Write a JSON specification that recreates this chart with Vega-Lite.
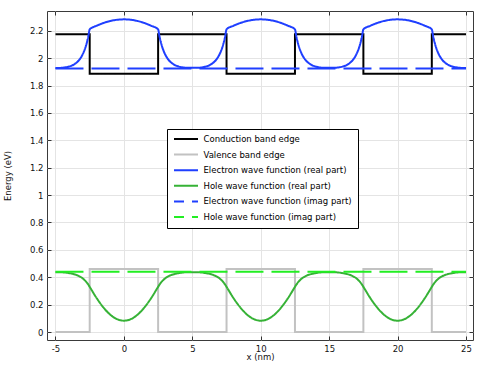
{
  "$schema": "https://vega.github.io/schema/vega-lite/v6.json",
  "autosize": "none",
  "width": 426,
  "height": 329,
  "padding": {"left": 47, "top": 11, "right": 6, "bottom": 26},
  "background": "white",
  "config": {
    "font": "DejaVu Sans",
    "view": {"stroke": "#3a3a3a", "strokeWidth": 1},
    "axis": {
      "labelFont": "DejaVu Sans", "labelFontSize": 8.5, "labelColor": "#111",
      "titleFont": "DejaVu Sans", "titleFontSize": 8.5, "titleFontWeight": "normal", "titleColor": "#111",
      "gridColor": "#e4e4e4", "gridWidth": 1, "domain": false,
      "tickColor": "#333", "tickSize": -4, "labelPadding": 8
    }
  },
  "encoding": {
    "x": {"field": "x", "type": "quantitative",
      "scale": {"domain": [-5.62, 25.51], "nice": false, "zero": false},
      "axis": {"values": [-5, 0, 5, 10, 15, 20, 25], "labelExpr": "replace(datum.label, '−', '-')", "title": "x (nm)", "titlePadding": 0, "grid": true}},
    "y": {"field": "y", "type": "quantitative",
      "scale": {"domain": [-0.058, 2.344], "nice": false, "zero": false},
      "axis": {"values": [0, 0.2, 0.4, 0.6, 0.8, 1, 1.2, 1.4, 1.6, 1.8, 2, 2.2], "format": "~g", "title": "Energy (eV)", "titlePadding": 17, "grid": true}},
    "color": {"field": "series", "type": "nominal",
      "scale": {"domain": ["Conduction band edge", "Valence band edge", "Electron wave function (real part)", "Hole wave function (real part)", "Electron wave function (imag part)", "Hole wave function (imag part)"],
        "range": ["#000000", "#c2c2c2", "#1f3fff", "#36b236", "#1f3fff", "#22ee22"]},
      "legend": {"orient": "none", "legendX": 120, "legendY": 118, "title": null, "fillColor": "white", "strokeColor": "#000", "padding": 6,
        "symbolType": "stroke", "symbolSize": 576, "symbolStrokeWidth": 2, "symbolDashOffset": 18, "clipHeight": 8, "rowPadding": 6.6,
        "labelFont": "DejaVu Sans", "labelFontSize": 8.5, "labelOffset": 4.5, "labelColor": "#000", "labelLimit": 300}},
    "strokeDash": {"field": "series", "type": "nominal",
      "scale": {"domain": ["Conduction band edge", "Valence band edge", "Electron wave function (real part)", "Hole wave function (real part)", "Electron wave function (imag part)", "Hole wave function (imag part)"],
        "range": [[1, 0], [1, 0], [1, 0], [1, 0], [28, 8], [28, 8]]},
      "legend": {"orient": "none", "legendX": 120, "legendY": 118, "title": null, "fillColor": "white", "strokeColor": "#000", "padding": 6,
        "symbolType": "stroke", "symbolSize": 576, "symbolStrokeWidth": 2, "symbolDashOffset": 18, "clipHeight": 8, "rowPadding": 6.6,
        "labelFont": "DejaVu Sans", "labelFontSize": 8.5, "labelOffset": 4.5, "labelColor": "#000", "labelLimit": 300}}
  },
  "layer": [
    {
      "data": {"values": [
        {"series": "Conduction band edge", "i": 0, "x": -5, "y": 2.175},
        {"series": "Conduction band edge", "i": 1, "x": -2.5, "y": 2.175},
        {"series": "Conduction band edge", "i": 2, "x": -2.5, "y": 1.885},
        {"series": "Conduction band edge", "i": 3, "x": 2.5, "y": 1.885},
        {"series": "Conduction band edge", "i": 4, "x": 2.5, "y": 2.175},
        {"series": "Conduction band edge", "i": 5, "x": 7.5, "y": 2.175},
        {"series": "Conduction band edge", "i": 6, "x": 7.5, "y": 1.885},
        {"series": "Conduction band edge", "i": 7, "x": 12.5, "y": 1.885},
        {"series": "Conduction band edge", "i": 8, "x": 12.5, "y": 2.175},
        {"series": "Conduction band edge", "i": 9, "x": 17.5, "y": 2.175},
        {"series": "Conduction band edge", "i": 10, "x": 17.5, "y": 1.885},
        {"series": "Conduction band edge", "i": 11, "x": 22.5, "y": 1.885},
        {"series": "Conduction band edge", "i": 12, "x": 22.5, "y": 2.175},
        {"series": "Conduction band edge", "i": 13, "x": 25, "y": 2.175},
        {"series": "Valence band edge", "i": 0, "x": -5, "y": 0},
        {"series": "Valence band edge", "i": 1, "x": -2.5, "y": 0},
        {"series": "Valence band edge", "i": 2, "x": -2.5, "y": 0.46},
        {"series": "Valence band edge", "i": 3, "x": 2.5, "y": 0.46},
        {"series": "Valence band edge", "i": 4, "x": 2.5, "y": 0},
        {"series": "Valence band edge", "i": 5, "x": 7.5, "y": 0},
        {"series": "Valence band edge", "i": 6, "x": 7.5, "y": 0.46},
        {"series": "Valence band edge", "i": 7, "x": 12.5, "y": 0.46},
        {"series": "Valence band edge", "i": 8, "x": 12.5, "y": 0},
        {"series": "Valence band edge", "i": 9, "x": 17.5, "y": 0},
        {"series": "Valence band edge", "i": 10, "x": 17.5, "y": 0.46},
        {"series": "Valence band edge", "i": 11, "x": 22.5, "y": 0.46},
        {"series": "Valence band edge", "i": 12, "x": 22.5, "y": 0},
        {"series": "Valence band edge", "i": 13, "x": 25, "y": 0}
      ]},
      "mark": {"type": "line", "strokeWidth": 2},
      "encoding": {"order": {"field": "i", "type": "quantitative"}}
    },
    {
      "data": {"values": [
        {"series": "Electron wave function (real part)", "x": -5, "y": 1.927},
        {"series": "Electron wave function (real part)", "x": -4.5, "y": 1.930},
        {"series": "Electron wave function (real part)", "x": -4, "y": 1.939},
        {"series": "Electron wave function (real part)", "x": -3.75, "y": 1.948},
        {"series": "Electron wave function (real part)", "x": -3.5, "y": 1.964},
        {"series": "Electron wave function (real part)", "x": -3.25, "y": 1.989},
        {"series": "Electron wave function (real part)", "x": -3, "y": 2.030},
        {"series": "Electron wave function (real part)", "x": -2.9, "y": 2.053},
        {"series": "Electron wave function (real part)", "x": -2.8, "y": 2.081},
        {"series": "Electron wave function (real part)", "x": -2.7, "y": 2.116},
        {"series": "Electron wave function (real part)", "x": -2.6, "y": 2.158},
        {"series": "Electron wave function (real part)", "x": -2.5, "y": 2.210},
        {"series": "Electron wave function (real part)", "x": -2, "y": 2.236},
        {"series": "Electron wave function (real part)", "x": -1.5, "y": 2.256},
        {"series": "Electron wave function (real part)", "x": -1, "y": 2.271},
        {"series": "Electron wave function (real part)", "x": -0.5, "y": 2.280},
        {"series": "Electron wave function (real part)", "x": 0, "y": 2.283},
        {"series": "Electron wave function (real part)", "x": 0.5, "y": 2.280},
        {"series": "Electron wave function (real part)", "x": 1, "y": 2.271},
        {"series": "Electron wave function (real part)", "x": 1.5, "y": 2.256},
        {"series": "Electron wave function (real part)", "x": 2, "y": 2.236},
        {"series": "Electron wave function (real part)", "x": 2.5, "y": 2.210},
        {"series": "Electron wave function (real part)", "x": 2.6, "y": 2.158},
        {"series": "Electron wave function (real part)", "x": 2.7, "y": 2.116},
        {"series": "Electron wave function (real part)", "x": 2.8, "y": 2.081},
        {"series": "Electron wave function (real part)", "x": 2.9, "y": 2.053},
        {"series": "Electron wave function (real part)", "x": 3, "y": 2.030},
        {"series": "Electron wave function (real part)", "x": 3.25, "y": 1.989},
        {"series": "Electron wave function (real part)", "x": 3.5, "y": 1.964},
        {"series": "Electron wave function (real part)", "x": 3.75, "y": 1.948},
        {"series": "Electron wave function (real part)", "x": 4, "y": 1.939},
        {"series": "Electron wave function (real part)", "x": 4.5, "y": 1.930},
        {"series": "Electron wave function (real part)", "x": 5, "y": 1.929},
        {"series": "Electron wave function (real part)", "x": 5.5, "y": 1.930},
        {"series": "Electron wave function (real part)", "x": 6, "y": 1.939},
        {"series": "Electron wave function (real part)", "x": 6.25, "y": 1.948},
        {"series": "Electron wave function (real part)", "x": 6.5, "y": 1.964},
        {"series": "Electron wave function (real part)", "x": 6.75, "y": 1.989},
        {"series": "Electron wave function (real part)", "x": 7, "y": 2.030},
        {"series": "Electron wave function (real part)", "x": 7.1, "y": 2.053},
        {"series": "Electron wave function (real part)", "x": 7.2, "y": 2.081},
        {"series": "Electron wave function (real part)", "x": 7.3, "y": 2.116},
        {"series": "Electron wave function (real part)", "x": 7.4, "y": 2.158},
        {"series": "Electron wave function (real part)", "x": 7.5, "y": 2.210},
        {"series": "Electron wave function (real part)", "x": 8, "y": 2.236},
        {"series": "Electron wave function (real part)", "x": 8.5, "y": 2.256},
        {"series": "Electron wave function (real part)", "x": 9, "y": 2.271},
        {"series": "Electron wave function (real part)", "x": 9.5, "y": 2.280},
        {"series": "Electron wave function (real part)", "x": 10, "y": 2.283},
        {"series": "Electron wave function (real part)", "x": 10.5, "y": 2.280},
        {"series": "Electron wave function (real part)", "x": 11, "y": 2.271},
        {"series": "Electron wave function (real part)", "x": 11.5, "y": 2.256},
        {"series": "Electron wave function (real part)", "x": 12, "y": 2.236},
        {"series": "Electron wave function (real part)", "x": 12.5, "y": 2.210},
        {"series": "Electron wave function (real part)", "x": 12.6, "y": 2.158},
        {"series": "Electron wave function (real part)", "x": 12.7, "y": 2.116},
        {"series": "Electron wave function (real part)", "x": 12.8, "y": 2.081},
        {"series": "Electron wave function (real part)", "x": 12.9, "y": 2.053},
        {"series": "Electron wave function (real part)", "x": 13, "y": 2.030},
        {"series": "Electron wave function (real part)", "x": 13.25, "y": 1.989},
        {"series": "Electron wave function (real part)", "x": 13.5, "y": 1.964},
        {"series": "Electron wave function (real part)", "x": 13.75, "y": 1.948},
        {"series": "Electron wave function (real part)", "x": 14, "y": 1.939},
        {"series": "Electron wave function (real part)", "x": 14.5, "y": 1.930},
        {"series": "Electron wave function (real part)", "x": 15, "y": 1.929},
        {"series": "Electron wave function (real part)", "x": 15.5, "y": 1.930},
        {"series": "Electron wave function (real part)", "x": 16, "y": 1.939},
        {"series": "Electron wave function (real part)", "x": 16.25, "y": 1.948},
        {"series": "Electron wave function (real part)", "x": 16.5, "y": 1.964},
        {"series": "Electron wave function (real part)", "x": 16.75, "y": 1.989},
        {"series": "Electron wave function (real part)", "x": 17, "y": 2.030},
        {"series": "Electron wave function (real part)", "x": 17.1, "y": 2.053},
        {"series": "Electron wave function (real part)", "x": 17.2, "y": 2.081},
        {"series": "Electron wave function (real part)", "x": 17.3, "y": 2.116},
        {"series": "Electron wave function (real part)", "x": 17.4, "y": 2.158},
        {"series": "Electron wave function (real part)", "x": 17.5, "y": 2.210},
        {"series": "Electron wave function (real part)", "x": 18, "y": 2.236},
        {"series": "Electron wave function (real part)", "x": 18.5, "y": 2.256},
        {"series": "Electron wave function (real part)", "x": 19, "y": 2.271},
        {"series": "Electron wave function (real part)", "x": 19.5, "y": 2.280},
        {"series": "Electron wave function (real part)", "x": 20, "y": 2.283},
        {"series": "Electron wave function (real part)", "x": 20.5, "y": 2.280},
        {"series": "Electron wave function (real part)", "x": 21, "y": 2.271},
        {"series": "Electron wave function (real part)", "x": 21.5, "y": 2.256},
        {"series": "Electron wave function (real part)", "x": 22, "y": 2.236},
        {"series": "Electron wave function (real part)", "x": 22.5, "y": 2.210},
        {"series": "Electron wave function (real part)", "x": 22.6, "y": 2.158},
        {"series": "Electron wave function (real part)", "x": 22.7, "y": 2.116},
        {"series": "Electron wave function (real part)", "x": 22.8, "y": 2.081},
        {"series": "Electron wave function (real part)", "x": 22.9, "y": 2.053},
        {"series": "Electron wave function (real part)", "x": 23, "y": 2.030},
        {"series": "Electron wave function (real part)", "x": 23.25, "y": 1.989},
        {"series": "Electron wave function (real part)", "x": 23.5, "y": 1.964},
        {"series": "Electron wave function (real part)", "x": 23.75, "y": 1.948},
        {"series": "Electron wave function (real part)", "x": 24, "y": 1.939},
        {"series": "Electron wave function (real part)", "x": 24.5, "y": 1.930},
        {"series": "Electron wave function (real part)", "x": 25, "y": 1.927},
        {"series": "Hole wave function (real part)", "x": -5, "y": 0.437},
        {"series": "Hole wave function (real part)", "x": -4.5, "y": 0.436},
        {"series": "Hole wave function (real part)", "x": -4, "y": 0.430},
        {"series": "Hole wave function (real part)", "x": -3.75, "y": 0.425},
        {"series": "Hole wave function (real part)", "x": -3.5, "y": 0.418},
        {"series": "Hole wave function (real part)", "x": -3.25, "y": 0.407},
        {"series": "Hole wave function (real part)", "x": -3, "y": 0.391},
        {"series": "Hole wave function (real part)", "x": -2.9, "y": 0.382},
        {"series": "Hole wave function (real part)", "x": -2.8, "y": 0.372},
        {"series": "Hole wave function (real part)", "x": -2.7, "y": 0.360},
        {"series": "Hole wave function (real part)", "x": -2.6, "y": 0.346},
        {"series": "Hole wave function (real part)", "x": -2.5, "y": 0.330},
        {"series": "Hole wave function (real part)", "x": -2, "y": 0.249},
        {"series": "Hole wave function (real part)", "x": -1.5, "y": 0.180},
        {"series": "Hole wave function (real part)", "x": -1, "y": 0.127},
        {"series": "Hole wave function (real part)", "x": -0.5, "y": 0.094},
        {"series": "Hole wave function (real part)", "x": 0, "y": 0.083},
        {"series": "Hole wave function (real part)", "x": 0.5, "y": 0.094},
        {"series": "Hole wave function (real part)", "x": 1, "y": 0.127},
        {"series": "Hole wave function (real part)", "x": 1.5, "y": 0.180},
        {"series": "Hole wave function (real part)", "x": 2, "y": 0.249},
        {"series": "Hole wave function (real part)", "x": 2.5, "y": 0.330},
        {"series": "Hole wave function (real part)", "x": 2.6, "y": 0.346},
        {"series": "Hole wave function (real part)", "x": 2.7, "y": 0.360},
        {"series": "Hole wave function (real part)", "x": 2.8, "y": 0.372},
        {"series": "Hole wave function (real part)", "x": 2.9, "y": 0.382},
        {"series": "Hole wave function (real part)", "x": 3, "y": 0.391},
        {"series": "Hole wave function (real part)", "x": 3.25, "y": 0.407},
        {"series": "Hole wave function (real part)", "x": 3.5, "y": 0.418},
        {"series": "Hole wave function (real part)", "x": 3.75, "y": 0.425},
        {"series": "Hole wave function (real part)", "x": 4, "y": 0.430},
        {"series": "Hole wave function (real part)", "x": 4.5, "y": 0.436},
        {"series": "Hole wave function (real part)", "x": 5, "y": 0.436},
        {"series": "Hole wave function (real part)", "x": 5.5, "y": 0.436},
        {"series": "Hole wave function (real part)", "x": 6, "y": 0.430},
        {"series": "Hole wave function (real part)", "x": 6.25, "y": 0.425},
        {"series": "Hole wave function (real part)", "x": 6.5, "y": 0.418},
        {"series": "Hole wave function (real part)", "x": 6.75, "y": 0.407},
        {"series": "Hole wave function (real part)", "x": 7, "y": 0.391},
        {"series": "Hole wave function (real part)", "x": 7.1, "y": 0.382},
        {"series": "Hole wave function (real part)", "x": 7.2, "y": 0.372},
        {"series": "Hole wave function (real part)", "x": 7.3, "y": 0.360},
        {"series": "Hole wave function (real part)", "x": 7.4, "y": 0.346},
        {"series": "Hole wave function (real part)", "x": 7.5, "y": 0.330},
        {"series": "Hole wave function (real part)", "x": 8, "y": 0.249},
        {"series": "Hole wave function (real part)", "x": 8.5, "y": 0.180},
        {"series": "Hole wave function (real part)", "x": 9, "y": 0.127},
        {"series": "Hole wave function (real part)", "x": 9.5, "y": 0.094},
        {"series": "Hole wave function (real part)", "x": 10, "y": 0.083},
        {"series": "Hole wave function (real part)", "x": 10.5, "y": 0.094},
        {"series": "Hole wave function (real part)", "x": 11, "y": 0.127},
        {"series": "Hole wave function (real part)", "x": 11.5, "y": 0.180},
        {"series": "Hole wave function (real part)", "x": 12, "y": 0.249},
        {"series": "Hole wave function (real part)", "x": 12.5, "y": 0.330},
        {"series": "Hole wave function (real part)", "x": 12.6, "y": 0.346},
        {"series": "Hole wave function (real part)", "x": 12.7, "y": 0.360},
        {"series": "Hole wave function (real part)", "x": 12.8, "y": 0.372},
        {"series": "Hole wave function (real part)", "x": 12.9, "y": 0.382},
        {"series": "Hole wave function (real part)", "x": 13, "y": 0.391},
        {"series": "Hole wave function (real part)", "x": 13.25, "y": 0.407},
        {"series": "Hole wave function (real part)", "x": 13.5, "y": 0.418},
        {"series": "Hole wave function (real part)", "x": 13.75, "y": 0.425},
        {"series": "Hole wave function (real part)", "x": 14, "y": 0.430},
        {"series": "Hole wave function (real part)", "x": 14.5, "y": 0.436},
        {"series": "Hole wave function (real part)", "x": 15, "y": 0.436},
        {"series": "Hole wave function (real part)", "x": 15.5, "y": 0.436},
        {"series": "Hole wave function (real part)", "x": 16, "y": 0.430},
        {"series": "Hole wave function (real part)", "x": 16.25, "y": 0.425},
        {"series": "Hole wave function (real part)", "x": 16.5, "y": 0.418},
        {"series": "Hole wave function (real part)", "x": 16.75, "y": 0.407},
        {"series": "Hole wave function (real part)", "x": 17, "y": 0.391},
        {"series": "Hole wave function (real part)", "x": 17.1, "y": 0.382},
        {"series": "Hole wave function (real part)", "x": 17.2, "y": 0.372},
        {"series": "Hole wave function (real part)", "x": 17.3, "y": 0.360},
        {"series": "Hole wave function (real part)", "x": 17.4, "y": 0.346},
        {"series": "Hole wave function (real part)", "x": 17.5, "y": 0.330},
        {"series": "Hole wave function (real part)", "x": 18, "y": 0.249},
        {"series": "Hole wave function (real part)", "x": 18.5, "y": 0.180},
        {"series": "Hole wave function (real part)", "x": 19, "y": 0.127},
        {"series": "Hole wave function (real part)", "x": 19.5, "y": 0.094},
        {"series": "Hole wave function (real part)", "x": 20, "y": 0.083},
        {"series": "Hole wave function (real part)", "x": 20.5, "y": 0.094},
        {"series": "Hole wave function (real part)", "x": 21, "y": 0.127},
        {"series": "Hole wave function (real part)", "x": 21.5, "y": 0.180},
        {"series": "Hole wave function (real part)", "x": 22, "y": 0.249},
        {"series": "Hole wave function (real part)", "x": 22.5, "y": 0.330},
        {"series": "Hole wave function (real part)", "x": 22.6, "y": 0.346},
        {"series": "Hole wave function (real part)", "x": 22.7, "y": 0.360},
        {"series": "Hole wave function (real part)", "x": 22.8, "y": 0.372},
        {"series": "Hole wave function (real part)", "x": 22.9, "y": 0.382},
        {"series": "Hole wave function (real part)", "x": 23, "y": 0.391},
        {"series": "Hole wave function (real part)", "x": 23.25, "y": 0.407},
        {"series": "Hole wave function (real part)", "x": 23.5, "y": 0.418},
        {"series": "Hole wave function (real part)", "x": 23.75, "y": 0.425},
        {"series": "Hole wave function (real part)", "x": 24, "y": 0.430},
        {"series": "Hole wave function (real part)", "x": 24.5, "y": 0.436},
        {"series": "Hole wave function (real part)", "x": 25, "y": 0.437}
      ]},
      "mark": {"type": "line", "strokeWidth": 2, "interpolate": "monotone"},
      "encoding": {
        "x": {"field": "x", "type": "quantitative", "scale": {"domain": [-5.62, 25.51], "nice": false, "zero": false}, "axis": null},
        "y": {"field": "y", "type": "quantitative", "scale": {"domain": [-0.058, 2.344], "nice": false, "zero": false}, "axis": null}
      }
    },
    {
      "data": {"values": [
        {"series": "Electron wave function (imag part)", "x": -5, "y": 1.925},
        {"series": "Electron wave function (imag part)", "x": 25, "y": 1.925},
        {"series": "Hole wave function (imag part)", "x": -5, "y": 0.44},
        {"series": "Hole wave function (imag part)", "x": 25, "y": 0.44}
      ]},
      "mark": {"type": "line", "strokeWidth": 2},
      "encoding": {
        "x": {"field": "x", "type": "quantitative", "scale": {"domain": [-5.62, 25.51], "nice": false, "zero": false},
          "axis": {"orient": "top", "values": [-5, 0, 5, 10, 15, 20, 25], "labels": false, "grid": false, "title": null}},
        "y": {"field": "y", "type": "quantitative", "scale": {"domain": [-0.058, 2.344], "nice": false, "zero": false},
          "axis": {"orient": "right", "values": [0, 0.2, 0.4, 0.6, 0.8, 1, 1.2, 1.4, 1.6, 1.8, 2, 2.2], "labels": false, "grid": false, "title": null}}
      }
    }
  ],
  "resolve": {"axis": {"x": "independent", "y": "independent"}}
}
